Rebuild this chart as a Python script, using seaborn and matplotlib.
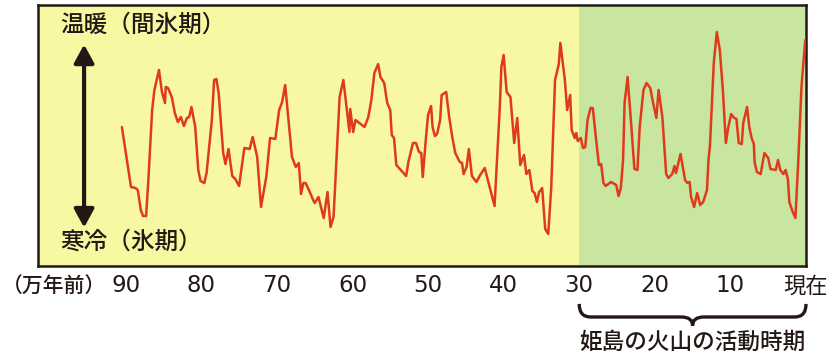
import matplotlib
matplotlib.use("Agg")
import matplotlib.pyplot as plt
import matplotlib.transforms as mtransforms
from matplotlib.path import Path
from matplotlib.patches import PathPatch
import seaborn as sns

# age in 10,000 years before present, relative climate index (higher = warmer)
ages = [90.5, 90.1, 89.3, 88.7, 88.4, 88.0, 87.7, 87.3, 87.0, 86.5, 86.2, 85.6, 85.2, 84.8, 84.7, 84.4,
        83.9, 83.5, 83.1, 82.7, 82.3, 81.9, 81.6, 81.3, 80.8, 80.4, 80.1, 79.6, 79.3, 78.6, 78.3,
        78.0, 77.7, 77.1, 76.8, 76.4, 75.9, 75.5, 75.0, 74.3, 73.6, 73.2, 72.6, 72.1, 71.4, 70.9, 70.2,
        69.7, 69.3, 68.9, 68.0, 67.5, 67.1, 66.8, 66.5, 66.2, 65.7, 65.2,
        65.0, 64.5, 63.8, 63.3, 62.9, 62.5, 62.1, 61.7, 61.2, 60.7, 60.4, 60.3, 59.9, 59.6, 58.4, 57.9,
        57.5, 57.1, 56.6, 56.3, 55.8, 55.4, 55.0, 54.8, 54.5, 54.2, 52.9, 52.6,
        52.0, 51.6, 51.2, 50.9, 50.7, 50.3, 50.0, 49.6, 49.4, 49.1, 48.8, 48.4, 48.2, 47.6, 47.2, 46.8,
        46.4, 45.8, 45.5, 45.3, 44.9, 44.6, 44.2, 43.6, 43.1, 42.5, 41.2, 40.5, 40.3, 40.0, 39.6,
        39.1, 38.7, 38.6, 38.2, 37.8, 37.3, 37.0, 36.6, 36.2, 35.9, 35.6, 35.3, 34.9, 34.5, 34.1, 33.7,
        33.2, 32.7, 32.5, 31.9, 31.6, 31.2, 31.0, 30.6, 30.4, 30.2, 29.8, 29.5, 29.2, 28.9, 28.5, 28.2,
        27.9, 27.4, 27.1, 26.8, 26.5,
        25.8, 25.1, 24.8, 24.5, 24.2, 24.0, 23.6, 23.1, 22.7, 22.3, 22.0, 21.5, 21.1, 20.6, 20.3, 19.8,
        19.5, 19.0, 18.5, 18.2, 17.7, 17.4, 17.2, 16.6, 16.0, 15.7, 15.4, 15.2, 14.8, 14.4, 14.0, 13.6,
        13.1, 12.9, 12.7, 12.2, 11.8, 11.4, 11.0, 10.8, 10.6, 10.3, 9.9, 9.5, 9.2, 8.9, 8.5, 8.3,
        7.8, 7.5, 7.2, 6.9, 6.8, 6.5, 6.0, 5.5, 5.0, 4.7, 4.0, 3.7, 3.4, 3.0, 2.7, 2.4,
        2.2, 1.8, 1.4, 1.0, 0.6, 0.1, -0.2]
climate = [139, 119, 79, 78, 76, 56, 50, 50, 86, 156, 176, 196, 174, 163, 179, 178,
           169, 153, 144, 149, 140, 148, 149, 159, 139, 96, 85, 83, 93, 146, 186,
           187, 173, 113, 102, 117, 90, 87, 80, 118, 117, 129, 109, 59, 89, 128, 127,
           156, 164, 181, 109, 99, 103, 72, 83, 83, 75, 66,
           63, 69, 48, 74, 39, 49, 109, 169, 186, 153, 134, 157, 134, 146, 139, 149,
           166, 193, 202, 189, 183, 163, 156, 131, 128, 101, 90, 104,
           123, 123, 114, 113, 89, 126, 151, 160, 139, 130, 132, 146, 171, 174, 149, 129,
           113, 104, 103, 92, 99, 117, 90, 84, 91, 98, 60, 160, 199, 211, 174,
           169, 133, 123, 148, 101, 111, 92, 96, 75, 73, 64, 74, 78, 37, 32, 79,
           186, 202, 223, 186, 156, 171, 136, 128, 133, 125, 128, 118, 119, 146, 158, 158,
           136, 101, 102, 83, 80,
           84, 81, 70, 78, 106, 163, 189, 139, 97, 96, 139, 176, 183, 178, 166, 148,
           176, 149, 92, 88, 92, 100, 93, 112, 86, 83, 84, 69, 59, 73, 61, 64,
           76, 106, 121, 203, 234, 216, 176, 149, 123, 138, 152, 148, 147, 123, 122, 143,
           159, 139, 128, 122, 104, 94, 92, 113, 108, 97, 96, 106, 96, 92, 96, 87,
           64, 55, 48, 109, 179, 226, 218]

tick_ages = [90, 80, 70, 60, 50, 40, 30, 20, 10, 0]
tick_labels = ["90", "80", "70", "60", "50", "40", "30", "20", "10", "現在"]
volcano_start = 30
volcano_end = 0

sns.set_style("white")
plt.rcParams['font.family'] = ['DejaVu Sans', 'Noto Sans CJK JP']
jp = ['Noto Sans CJK JP', 'DejaVu Sans']

dark = '#231815'
fig = plt.figure(figsize=(8.38, 3.59), dpi=100)
ax = fig.add_axes([38 / 838, 1 - 266 / 359, 768 / 838, 261.5 / 359])
ax.set_facecolor('#F9F8A2')
ax.axvspan(volcano_start, volcano_end, color='#C9E6A1', lw=0, zorder=0)

sns.lineplot(x=ages, y=climate, ax=ax, sort=False, estimator=None,
             color='#E03A1C', lw=1.8, zorder=3)

ax.set_xlim(101.6, 0)
ax.set_ylim(0, 261.5)
ax.set_yticks([])
ax.set_xticks(tick_ages)
ax.set_xticklabels(tick_labels)
ax.tick_params(axis='x', direction='in', length=6, width=1.0, color=dark,
               labelsize=16.5, labelcolor=dark, pad=6)
ax.get_xticklabels()[-1].set_fontfamily(jp)
ax.get_xticklabels()[-1].set_fontsize(16)
ax.set_xlabel('')
ax.set_ylabel('')
for sp in ax.spines.values():
    sp.set_visible(True)
    sp.set_color(dark)
    sp.set_linewidth(1.8)

# unit label left of the first tick
fig.text(0.002, 1 - 287 / 359, '（万年前）', ha='left', va='center',
         fontsize=15, color=dark, family=jp, fontweight='medium')

ax.text(0.029, 0.922, '温暖（間氷期）', transform=ax.transAxes, ha='left', va='center',
        fontsize=17, color=dark, family=jp, fontweight='medium')
ax.text(0.029, 0.092, '寒冷（氷期）', transform=ax.transAxes, ha='left', va='center',
        fontsize=17, color=dark, family=jp, fontweight='medium')
ax.annotate('', xy=(0.06, 0.847), xytext=(0.06, 0.147), xycoords='axes fraction',
            arrowprops=dict(arrowstyle='<|-|>,head_length=0.55,head_width=0.3',
                            mutation_scale=20, lw=3.0, color=dark, shrinkA=0, shrinkB=0))

# brace under the volcanic period
trans = mtransforms.blended_transform_factory(ax.transData, ax.transAxes)
mid = (volcano_start + volcano_end) / 2
y0, y1, y2 = -0.145, -0.195, -0.228
verts = [(volcano_start, y0), (volcano_start, y1), (volcano_start - 1.5, y1),
         (mid + 1.5, y1), (mid, y1), (mid, y2),
         (mid, y1), (mid - 1.5, y1),
         (volcano_end + 1.5, y1), (volcano_end, y1), (volcano_end, y0)]
codes = [Path.MOVETO, Path.CURVE3, Path.CURVE3,
         Path.LINETO, Path.CURVE3, Path.CURVE3,
         Path.CURVE3, Path.CURVE3,
         Path.LINETO, Path.CURVE3, Path.CURVE3]
ax.add_patch(PathPatch(Path(verts, codes), transform=trans, fill=False,
                       lw=2.4, edgecolor=dark, clip_on=False))
ax.text(mid, -0.291, '姫島の火山の活動時期', transform=trans, ha='center', va='center',
        fontsize=16.3, color=dark, family=jp, fontweight='medium')

fig.savefig('out.png', dpi=100)
